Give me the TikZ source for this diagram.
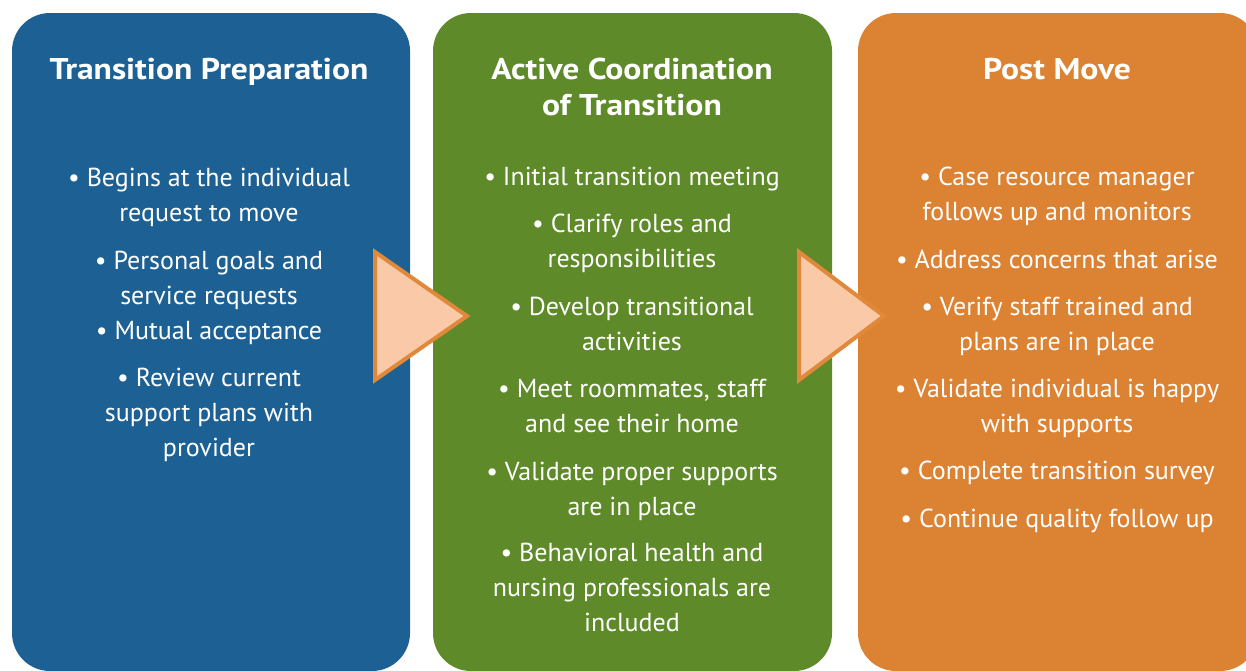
\documentclass[tikz,border=0pt]{standalone}
\usepackage{fontspec}
\setmainfont{PT Sans}
\newfontfamily\headfont[FakeStretch=1.12]{PT Sans Bold}
\usepackage{tikz}
\usepackage{xcolor}

\definecolor{prepblue}{RGB}{29,97,148}
\definecolor{coordgreen}{RGB}{94,138,42}
\definecolor{postorange}{RGB}{220,130,51}
\definecolor{arrowfill}{RGB}{249,201,168}
\definecolor{arrowline}{RGB}{224,137,58}

\begin{document}
\begin{tikzpicture}[x=0.75pt,y=0.75pt,yscale=-1,xscale=1,
  stagebox/.style={draw=none,rounded corners=28.5pt},
  headtext/.style={anchor=base,inner sep=0.75pt,align=center,text=white,font=\fontsize{22.5}{27}\headfont},
  itemtext/.style={anchor=base,inner sep=0.75pt,align=center,text=white,font=\fontsize{19.5}{26.25}\selectfont},
  steparrow/.style={draw=arrowline,fill=arrowfill,line width=3pt,line join=miter}]
%set diagram to the size of the picture
\useasboundingbox (0,0) rectangle (1246,671);
\clip (0,0) rectangle (1246,671);

%Shape: Rounded Rect [id:prep]
\draw [stagebox,fill=prepblue] (12,13) rectangle (410,671);
%Shape: Rounded Rect [id:coord]
\draw [stagebox,fill=coordgreen] (433,13) rectangle (832,671);
%Shape: Rounded Rect [id:post]
\draw [stagebox,fill=postorange] (858,13) rectangle (1258,671);

%Shape: Triangle [id:arrowA]
\draw [steparrow] (375,252) -- (467,316) -- (375,380) -- cycle;
%Shape: Triangle [id:arrowB]
\draw [steparrow] (799,252) -- (884,316) -- (799,380) -- cycle;

% Text Node (placed at the baseline of its last line)
\node [headtext] (prephead) at (209,79) {Transition Preparation};
% Text Node
\node [headtext] (coordhead) at (632,115) {Active Coordination\\of Transition};
% Text Node
\node [headtext] (posthead) at (1057,79) {Post Move};

% Text Node
\node [itemtext] (prepA) at (209,221) {• Begins at the individual\\request to move};
% Text Node
\node [itemtext] (prepB) at (209,339) {• Personal goals and\\service requests\\• Mutual acceptance};
% Text Node
\node [itemtext] (prepC) at (209,456) {• Review current\\support plans with\\provider};

% Text Node
\node [itemtext] (coordA) at (632,185) {• Initial transition meeting};
% Text Node
\node [itemtext] (coordB) at (632,267) {• Clarify roles and\\responsibilities};
% Text Node
\node [itemtext] (coordC) at (632,350) {• Develop transitional\\activities};
% Text Node
\node [itemtext] (coordD) at (632,432) {• Meet roommates, staff\\and see their home};
% Text Node
\node [itemtext] (coordE) at (632,515) {• Validate proper supports\\are in place};
% Text Node
\node [itemtext] (coordF) at (632,631) {• Behavioral health and\\nursing professionals are\\included};

% Text Node
\node [itemtext] (postA) at (1057,220) {• Case resource manager\\follows up and monitors};
% Text Node
\node [itemtext] (postB) at (1057,268) {• Address concerns that arise};
% Text Node
\node [itemtext] (postC) at (1057,350) {• Verify staff trained and\\plans are in place};
% Text Node
\node [itemtext] (postD) at (1057,432) {• Validate individual is happy\\with supports};
% Text Node
\node [itemtext] (postE) at (1057,479) {• Complete transition survey};
% Text Node
\node [itemtext] (postF) at (1057,527) {• Continue quality follow up};

\end{tikzpicture}
\end{document}
